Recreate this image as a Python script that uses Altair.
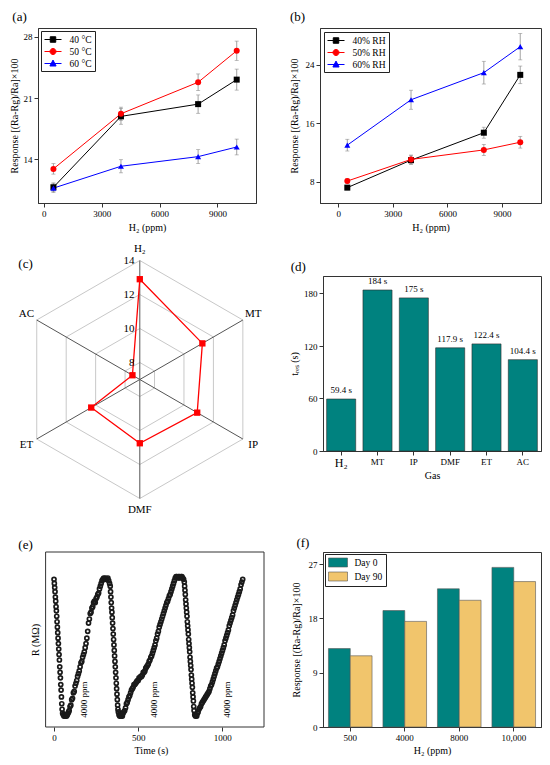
import altair as alt
import pandas as pd

FONT = "Liberation Serif"
TEAL = "#00827f"
GOLD = "#f1c56c"
INSET = 2.5

# ---------------- data ----------------
conc = [500, 4000, 8000, 10000]

temp_series = ["40 °C", "50 °C", "60 °C"]
resp_40c = [10.8, 18.9, 20.3, 23.1]
resp_50c = [12.9, 19.2, 22.8, 26.4]
resp_60c = [10.7, 13.2, 14.3, 15.4]
err_40c = [0.5, 0.9, 1.05, 1.2]
err_50c = [0.6, 0.75, 0.95, 1.1]
err_60c = [0.5, 0.75, 0.8, 0.9]

rh_series = ["40% RH", "50% RH", "60% RH"]
resp_40rh = [7.2, 10.95, 14.7, 22.6]
resp_50rh = [8.1, 11.05, 12.35, 13.4]
resp_60rh = [13.0, 19.2, 22.9, 26.45]
err_40rh = [0.3, 0.6, 0.75, 1.2]
err_50rh = [0.3, 0.6, 0.75, 0.8]
err_60rh = [0.8, 1.3, 1.55, 1.8]

gases = ["H₂", "MT", "IP", "DMF", "ET", "AC"]
radar_vals = [12.9, 11.25, 10.9, 10.75, 10.3, 7.5]
ring_levels = [8, 10, 12, 14]
RADAR_MIN, RADAR_MAX = 7, 14

t_res = [59.4, 184, 175, 117.9, 122.4, 104.4]

# (e) resistance trace: (start time, time step, values)
e_segments = [
    (0, 2, [1.00, 0.97, 0.94, 0.91, 0.87, 0.84, 0.80, 0.77, 0.73, 0.69, 0.65, 0.61, 0.57,
            0.53, 0.49, 0.45, 0.41, 0.36, 0.32, 0.28, 0.23, 0.19, 0.14, 0.09, 0.05]),
    (51, 4, [0.02, 0.01, 0.00, 0.01, 0.00, 0.01, 0.00, 0.01, 0.02, 0.03]),
    (90, 5, [0.04, 0.07, 0.08, 0.12, 0.13, 0.17, 0.18, 0.22, 0.24, 0.26,
             0.29, 0.31, 0.33, 0.36, 0.39, 0.40, 0.43, 0.45, 0.47, 0.50,
             0.53, 0.57, 0.62, 0.68, 0.71, 0.75, 0.76, 0.79, 0.80, 0.83,
             0.84, 0.83, 0.86, 0.87, 0.89, 0.90, 0.93, 0.95, 0.97, 0.99]),
    (290, 5, [1.00, 1.01, 1.00, 1.01, 1.00, 1.00, 1.01, 0.99, 0.97]),
    (334, 2, [0.95, 0.91, 0.87, 0.83, 0.79, 0.76, 0.72, 0.68, 0.64, 0.60, 0.56, 0.52, 0.48,
              0.44, 0.40, 0.36, 0.32, 0.28, 0.24, 0.20, 0.16, 0.12, 0.08, 0.05, 0.03]),
    (386, 4, [0.01, 0.00, 0.01, 0.00, 0.01, 0.00, 0.02, 0.03]),
    (420, 5, [0.04, 0.06, 0.09, 0.10, 0.12, 0.14, 0.15, 0.17, 0.19, 0.20,
              0.21, 0.23, 0.23, 0.24, 0.25, 0.26, 0.26, 0.28, 0.28, 0.29,
              0.29, 0.30, 0.32, 0.32, 0.33, 0.35, 0.36, 0.37, 0.38, 0.40,
              0.41, 0.43, 0.44, 0.46, 0.48, 0.50, 0.52, 0.55, 0.57, 0.60,
              0.62, 0.65, 0.67, 0.69, 0.71, 0.73, 0.75, 0.77, 0.79, 0.81,
              0.83, 0.84, 0.86, 0.88, 0.89, 0.91, 0.93, 0.95, 0.97]),
    (715, 5, [0.99, 1.01, 1.02, 1.02, 1.01, 1.02, 1.02, 1.01, 1.02, 1.02, 1.01, 1.00]),
    (774, 2, [0.98, 0.95, 0.92, 0.89, 0.85, 0.82, 0.79, 0.76, 0.73, 0.69,
              0.66, 0.63, 0.60, 0.56, 0.53, 0.50, 0.47, 0.43, 0.40, 0.37,
              0.34, 0.30, 0.27, 0.24, 0.21, 0.17, 0.14, 0.11, 0.07, 0.04]),
    (836, 4, [0.01, 0.00, 0.01, 0.00, 0.02]),
    (856, 5, [0.03, 0.05, 0.06, 0.07, 0.09, 0.10, 0.11, 0.12, 0.13, 0.14,
              0.15, 0.16, 0.17, 0.18, 0.20, 0.22, 0.23, 0.25, 0.27, 0.29,
              0.31, 0.33, 0.35, 0.36, 0.38, 0.40, 0.42, 0.44, 0.46, 0.48,
              0.50, 0.52, 0.55, 0.57, 0.59, 0.61, 0.63, 0.66, 0.68, 0.70,
              0.72, 0.74, 0.77, 0.79, 0.81, 0.83, 0.85, 0.87, 0.89, 0.91,
              0.93, 0.96, 0.98, 1.00]),
]
ann_time = [178, 594, 1030]
ann_r = [0.12, 0.12, 0.12]
ann_text = ["4000 ppm", "4000 ppm", "4000 ppm"]

conc_labels = ["500", "4000", "8000", "10,000"]
days = ["Day 0", "Day 90"]
resp_day0 = [13.0, 19.3, 22.9, 26.45]
resp_day90 = [11.8, 17.5, 21.0, 24.1]

SERIES_COLORS = ["#000000", "#ff0000", "#0000ff"]
MARKERS = ["square", "circle", "triangle-up"]
LEGEND_PATHS = [
    "M-1.7,0H1.7M-0.55,-0.55H0.55V0.55H-0.55Z",
    "M-1.7,0H1.7M0.6,0A0.6,0.6,0,1,1,-0.6,0A0.6,0.6,0,1,1,0.6,0Z",
    "M-1.7,0H1.7M0,-0.68L0.62,0.5H-0.62Z",
]
RECT_PATH = "M-1.9,-0.9H1.9V0.9H-1.9Z"

INDEP = dict(color="independent", fill="independent", stroke="independent", shape="independent")


def box(x1, x2, y1, y2):
    # invisible cell that fixes each panel's extent in the concat layout
    return alt.Chart(pd.DataFrame({"b": [0]})).mark_rect(
        fill="transparent", stroke="transparent", strokeWidth=0.5).encode(
        x=alt.value(x1 + INSET), x2=alt.value(x2 - INSET),
        y=alt.value(y1 + INSET), y2=alt.value(y2 - INSET))


def plabel(text, x, y):
    return alt.Chart(pd.DataFrame({"t": [text]})).mark_text(
        font=FONT, fontSize=13, align="left", baseline="alphabetic", color="black"
    ).encode(x=alt.value(x), y=alt.value(y), text="t:N")


def line_panel(series, vals, errs, xdom, ydom, yticks, w, h, bx, lab, lab_xy, leg_off, ytp):
    rows = []
    for s, vv, ee in zip(series, vals, errs):
        for c, v, e in zip(conc, vv, ee):
            rows.append({"series": s, "conc": c, "resp": v, "err": e})
    df = pd.DataFrame(rows)
    xs = alt.Scale(domain=xdom, nice=False, zero=False)
    ys = alt.Scale(domain=ydom, nice=False, zero=False)
    xax = alt.Axis(values=[0, 3000, 6000, 9000], format="d", titlePadding=4)
    yax = alt.Axis(values=yticks, titlePadding=ytp)
    XT = "H₂ (ppm)"
    YT = "Response [(Ra-Rg)/Ra]×100"
    X = alt.X("conc:Q", scale=xs, axis=xax, title=XT)

    def Y(f):
        return alt.Y(f, scale=ys, axis=yax, title=YT)

    base = alt.Chart(df)
    eb = base.transform_calculate(lo="datum.resp - datum.err", hi="datum.resp + datum.err")
    rule = eb.mark_rule(color="#8a8a8a", strokeWidth=0.8).encode(x=X, y=Y("lo:Q"), y2="hi:Q")
    cap_lo = eb.mark_tick(orient="horizontal", color="#8a8a8a", size=4, thickness=0.8).encode(x=X, y=Y("lo:Q"))
    cap_hi = eb.mark_tick(orient="horizontal", color="#8a8a8a", size=4, thickness=0.8).encode(x=X, y=Y("hi:Q"))
    lines, pts = [], []
    for s, col, shp in zip(series, SERIES_COLORS, MARKERS):
        sb = base.transform_filter(alt.datum.series == s)
        lines.append(sb.mark_line(strokeWidth=1, color=col).encode(x=X, y=Y("resp:Q")))
        pts.append(sb.mark_point(filled=True, opacity=1, size=36, shape=shp, color=col).encode(
            x=X, y=Y("resp:Q")))
    leg = alt.Legend(title=None, orient="top-left", offset=leg_off, padding=3, strokeColor="#222",
                     fillColor="white", labelFont=FONT, labelFontSize=9.5, labelColor="black",
                     symbolSize=100, symbolOffset=3.5, labelOffset=11, symbolStrokeWidth=1,
                     rowPadding=1, cornerRadius=0)
    legend_layer = base.transform_filter("false").mark_point(opacity=1, strokeWidth=1).encode(
        x=X, y=Y("resp:Q"),
        fill=alt.Fill("series:N", scale=alt.Scale(domain=series, range=SERIES_COLORS), legend=leg),
        stroke=alt.Stroke("series:N", scale=alt.Scale(domain=series, range=SERIES_COLORS), legend=leg),
        shape=alt.Shape("series:N", scale=alt.Scale(domain=series, range=LEGEND_PATHS), legend=leg),
    )
    return alt.layer(box(*bx), rule, cap_lo, cap_hi, *lines, *pts, legend_layer,
                     plabel(lab, *lab_xy)).properties(width=w, height=h)


# (a)  origin at page (35.7, 29)
pa = line_panel(temp_series, [resp_40c, resp_50c, resp_60c], [err_40c, err_50c, err_60c],
                [-300, 11000], [9, 29], [14, 21, 28], 218, 175,
                (-27.7, 244.3, -21, 211), "(a)", (-25.7, -7), 3, 4)
# (b)  origin at page (320, 29)
pb = line_panel(rh_series, [resp_40rh, resp_50rh, resp_60rh], [err_40rh, err_50rh, err_60rh],
                [-1000, 11140], [5.1, 29], [8, 16, 24], 221, 175,
                (-40, 222, -21, 211), "(b)", (-30, -7), 4, 6)

# (c) radar, plot origin at page (35.7, 278)
RW, RH = 218, 175
CX, CY, RR = 101.8, 103.5, 119.0
rxs = alt.Scale(domain=[-CX / RR, (RW - CX) / RR], nice=False, zero=False)
rys = alt.Scale(domain=[-(RH - CY) / RR, CY / RR], nice=False, zero=False)
rmin_s = str(RADAR_MIN)
rspan_s = str(RADAR_MAX - RADAR_MIN)

ring_df = pd.DataFrame([{"level": lv, "k": k} for lv in ring_levels for k in range(len(gases))])
rings = alt.Chart(ring_df).transform_calculate(
    r=f"(datum.level - {rmin_s}) / {rspan_s}", a="PI/2 - datum.k*PI/3"
).transform_calculate(px="datum.r*cos(datum.a)", py="datum.r*sin(datum.a)").mark_line(
    interpolate="linear-closed", color="#c8c8c8", strokeWidth=1
).encode(x=alt.X("px:Q", scale=rxs, axis=None), y=alt.Y("py:Q", scale=rys, axis=None),
         detail="level:N", order="k:Q")

gas_df = pd.DataFrame({"gas": gases, "k": list(range(len(gases))), "v": radar_vals})
gbase = alt.Chart(gas_df).transform_calculate(a="PI/2 - datum.k*PI/3")
spokes = gbase.transform_calculate(zero="0", ex="cos(datum.a)", ey="sin(datum.a)").mark_rule(
    color="#555555", strokeWidth=1
).encode(x=alt.X("zero:Q", scale=rxs, axis=None), y=alt.Y("zero:Q", scale=rys, axis=None),
         x2="ex:Q", y2="ey:Q")
poly_base = gbase.transform_calculate(r=f"(datum.v - {rmin_s}) / {rspan_s}").transform_calculate(
    px="datum.r*cos(datum.a)", py="datum.r*sin(datum.a)")
poly = poly_base.mark_line(interpolate="linear-closed", color="#ff0000", strokeWidth=1.3).encode(
    x=alt.X("px:Q", scale=rxs, axis=None), y=alt.Y("py:Q", scale=rys, axis=None), order="k:Q")
poly_pts = poly_base.mark_square(size=40, color="#ff0000", opacity=1).encode(
    x=alt.X("px:Q", scale=rxs, axis=None), y=alt.Y("py:Q", scale=rys, axis=None))
glabels = gbase.transform_calculate(lx="1.1*cos(datum.a)", ly="1.1*sin(datum.a)").mark_text(
    font=FONT, fontSize=11, color="black", align="center", baseline="middle"
).encode(x=alt.X("lx:Q", scale=rxs, axis=None), y=alt.Y("ly:Q", scale=rys, axis=None), text="gas:N")
lev_df = pd.DataFrame({"level": ring_levels})
levlabels = alt.Chart(lev_df).transform_calculate(
    ty=f"(datum.level - {rmin_s}) / {rspan_s}", tx="-0.045"
).mark_text(font=FONT, fontSize=11, color="black", align="right", baseline="middle").encode(
    x=alt.X("tx:Q", scale=rxs, axis=None), y=alt.Y("ty:Q", scale=rys, axis=None), text="level:N")
pc = alt.layer(box(-27.7, 244.3, -39.5, 242), rings, spokes, poly, poly_pts, glabels, levlabels,
               plabel("(c)", -19.7, -8)).properties(
    width=RW, height=RH, view=alt.ViewBackground(stroke="transparent"))

# (d) origin at page (323.3, 278)
d_df = pd.DataFrame({"gas": gases, "t": t_res})
dx = alt.X("gas:N", sort=gases, scale=alt.Scale(paddingInner=0.2, paddingOuter=0.1),
           axis=alt.Axis(title="Gas", labelAngle=0, titlePadding=2,
                         labelFontSize={"condition": {"test": "datum.value === 'H₂'", "value": 12},
                                        "value": 9}))
dy = alt.Y("t:Q", scale=alt.Scale(domain=[0, 200], nice=False),
           axis=alt.Axis(values=[0, 60, 120, 180], titlePadding=4), title="tᵣₑₛ (s)")
d_bars = alt.Chart(d_df).mark_bar(color=TEAL, stroke="#2b2b2b", strokeWidth=0.6).encode(x=dx, y=dy)
d_text = alt.Chart(d_df).transform_calculate(lab="datum.t + ' s'").mark_text(
    font=FONT, fontSize=9, baseline="bottom", dy=-4, color="black").encode(x=dx, y=dy, text="lab:N")
pd_ = alt.layer(box(-43.3, 218.7, -39.5, 242), d_bars, d_text, plabel("(d)", -32.3, -5)).properties(
    width=218, height=175)

# (e) origin at page (35.7, 552); frame starts 7.6 px to the right
E_SHIFT = 7.6
e_rows = []
for t0, dt, vals in e_segments:
    for i, v in enumerate(vals):
        e_rows.append({"t": t0 + i * dt, "r": v})
e_df = pd.DataFrame(e_rows)
ex_ = alt.X("t:Q", scale=alt.Scale(domain=[-95.2, 1247.5], nice=False, zero=False),
            axis=alt.Axis(values=[0, 500, 1000], format="d", titlePadding=3, domain=False),
            title="Time (s)")
ey_ = alt.Y("r:Q", scale=alt.Scale(domain=[-0.08, 1.2], nice=False, zero=False),
            axis=alt.Axis(labels=False, ticks=False, domain=False, offset=-E_SHIFT, titlePadding=5),
            title="R (MΩ)")
e_frame = alt.Chart(pd.DataFrame({"b": [0]})).mark_rect(
    fill="transparent", stroke="#333333", strokeWidth=1).encode(
    x=alt.value(E_SHIFT), x2=alt.value(226), y=alt.value(0), y2=alt.value(175))
e_pts = alt.Chart(e_df).mark_point(shape="circle", filled=False, size=16, strokeWidth=1.7,
                                   color="#1a1a1a", opacity=1).encode(x=ex_, y=ey_)
ann_df = pd.DataFrame({"t": ann_time, "r": ann_r, "txt": ann_text})
e_ann = alt.Chart(ann_df).mark_text(font=FONT, fontSize=9, angle=270, align="center",
                                    baseline="middle", color="black").encode(x=ex_, y=ey_, text="txt:N")
pe = alt.layer(box(-27.7, 244.3, -36.5, 203), e_frame, e_pts, e_ann,
               plabel("(e)", -19.7, -3)).properties(
    width=226, height=175, view=alt.ViewBackground(stroke="transparent"))

# (f) origin at page (323.3, 552)
f_rows = []
for cl, v0, v90 in zip(conc_labels, resp_day0, resp_day90):
    f_rows.append({"cl": cl, "day": days[0], "v": v0})
    f_rows.append({"cl": cl, "day": days[1], "v": v90})
f_df = pd.DataFrame(f_rows)
f_leg = alt.Legend(title=None, orient="top-left", offset=2, padding=3, strokeColor="#222",
                   fillColor="white", labelFont=FONT, labelFontSize=9.5, labelColor="black",
                   symbolType=RECT_PATH, symbolSize=100, symbolOffset=4.5, labelOffset=11,
                   symbolStrokeColor="#555555", symbolStrokeWidth=0.6, rowPadding=1, cornerRadius=0)
f_bars = alt.Chart(f_df).mark_bar(stroke="#555555", strokeWidth=0.6).encode(
    x=alt.X("cl:N", sort=conc_labels, scale=alt.Scale(paddingInner=0.2, paddingOuter=0.1),
            axis=alt.Axis(labelAngle=0, titlePadding=3), title="H₂ (ppm)"),
    xOffset=alt.XOffset("day:N", sort=days),
    y=alt.Y("v:Q", scale=alt.Scale(domain=[0, 29], nice=False),
            axis=alt.Axis(values=[0, 9, 18, 27], titlePadding=7), title="Response [(Ra-Rg)/Ra]×100"),
    color=alt.Color("day:N", scale=alt.Scale(domain=days, range=[TEAL, GOLD]), legend=f_leg),
)
pf = alt.layer(box(-43.3, 218.7, -36.5, 203), f_bars, plabel("(f)", -26.6, -4.7)).properties(
    width=218, height=175)

row1 = alt.hconcat(pa, pb, spacing=0).resolve_scale(**INDEP)
row2 = alt.hconcat(pc, pd_, spacing=0).resolve_scale(**INDEP)
row3 = alt.hconcat(pe, pf, spacing=0).resolve_scale(**INDEP)

chart = alt.vconcat(row1, row2, row3, spacing=0).resolve_scale(**INDEP).properties(
    padding=0, background="white")
chart = chart.configure_view(stroke="#333333", strokeWidth=1).configure_axis(
    labelFont=FONT, titleFont=FONT, labelFontSize=9, titleFontSize=10, titleFontWeight="normal",
    labelColor="black", titleColor="black", domainColor="#333333", tickColor="#333333",
    tickSize=4, grid=False, labelPadding=2
)

chart.save("out.html", embed_options={"renderer": "svg", "actions": False})
